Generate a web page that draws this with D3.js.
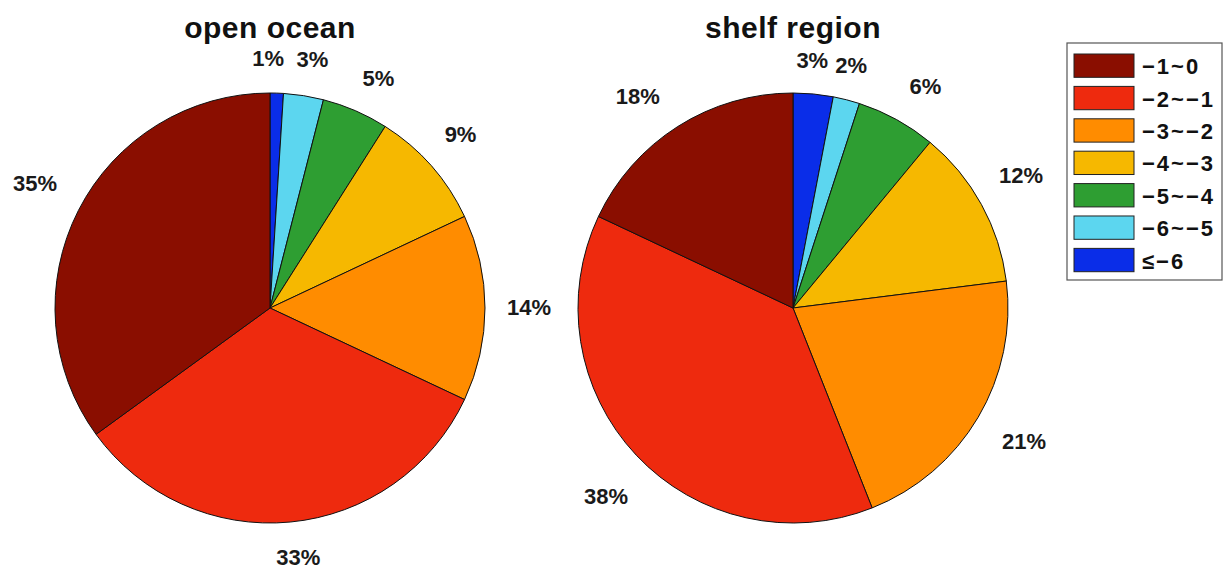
<!DOCTYPE html>
<html>
<head>
<meta charset="utf-8">
<script src="https://cdn.jsdelivr.net/npm/d3@7"></script>
<style>
  html, body { margin: 0; padding: 0; background: #fff; }
  svg { display: block; font-family: "Liberation Sans", Arial, sans-serif; }
</style>
</head>
<body>
<svg id="chart" width="1223" height="572"></svg>
<script>
// Classes of the value range, from the lowest (drawn first, at 12 o'clock) upward
const categories = ["≤−6", "−6~−5", "−5~−4", "−4~−3", "−3~−2", "−2~−1", "−1~0"];
const colors = ["#0a2de8", "#5cd6ef", "#2e9e32", "#f6b800", "#ff8c00", "#ee2a0e", "#8a0e00"];

// Share of each class (%)
const openOcean = [1, 3, 5, 9, 14, 33, 35];
const shelfRegion = [3, 2, 6, 12, 21, 38, 18];

const titles = ["open ocean", "shelf region"];

// Legend order (top to bottom)
const legendOrder = [6, 5, 4, 3, 2, 1, 0];

// Small label nudges (px) so neighbouring percentages don't collide
const labelNudge = [
  [[-10, 8], [2, 6], [6, 7], [-3, -3], [1, -1], [4, -7], [-5, -7]],
  [[-5, 9], [-6, 7], [8, 5], [2, -8], [9, 2], [1, 12], [-17, 6]]
];

const svg = d3.select("#chart");
const radius = 215;
const centers = [[270, 308], [793, 308]];

const pie = d3.pie().sort(null).value(d => d).startAngle(0).endAngle(2 * Math.PI);
const arc = d3.arc().innerRadius(0).outerRadius(radius);
const labelArc = d3.arc().innerRadius(radius * 1.2).outerRadius(radius * 1.2);

[openOcean, shelfRegion].forEach((values, k) => {
  const g = svg.append("g").attr("transform", `translate(${centers[k][0]},${centers[k][1]})`);
  const arcs = pie(values);

  g.selectAll("path.slice")
    .data(arcs)
    .join("path")
    .attr("class", "slice")
    .attr("d", arc)
    .attr("fill", (d, i) => colors[i])
    .attr("stroke", "#111")
    .attr("stroke-width", 1);

  g.selectAll("text.pct")
    .data(arcs)
    .join("text")
    .attr("class", "pct")
    .attr("transform", (d, i) => {
      const [x, y] = labelArc.centroid(d);
      const [dx, dy] = labelNudge[k][i];
      return `translate(${x + dx},${y + dy})`;
    })
    .attr("text-anchor", "middle")
    .attr("dominant-baseline", "central")
    .attr("font-size", 22)
    .attr("font-weight", "bold")
    .attr("fill", "#1a1a1a")
    .text(d => d.data + "%");

  svg.append("text")
    .attr("x", centers[k][0])
    .attr("y", 38)
    .attr("text-anchor", "middle")
    .attr("font-size", 30)
    .attr("font-weight", "bold")
    .attr("letter-spacing", "0.5px")
    .attr("fill", "#111")
    .text(titles[k]);
});

// Legend
const legend = svg.append("g").attr("transform", "translate(1067,43)");
legend.append("rect")
  .attr("x", 0).attr("y", 0)
  .attr("width", 155).attr("height", 237)
  .attr("fill", "#fff")
  .attr("stroke", "#555")
  .attr("stroke-width", 1.2);

const rowY = d3.scaleBand()
  .domain(d3.range(legendOrder.length))
  .range([11, 228.7])
  .paddingInner(0.28);

legendOrder.forEach((ci, r) => {
  legend.append("rect")
    .attr("x", 7)
    .attr("y", rowY(r))
    .attr("width", 60)
    .attr("height", rowY.bandwidth())
    .attr("fill", colors[ci])
    .attr("stroke", "#222")
    .attr("stroke-width", 1);
  legend.append("text")
    .attr("x", 75)
    .attr("y", rowY(r) + rowY.bandwidth() / 2 + 1)
    .attr("dominant-baseline", "central")
    .attr("font-size", 22)
    .attr("font-weight", "bold")
    .attr("letter-spacing", "2px")
    .attr("fill", "#111")
    .text(categories[ci]);
});
</script>
</body>
</html>
